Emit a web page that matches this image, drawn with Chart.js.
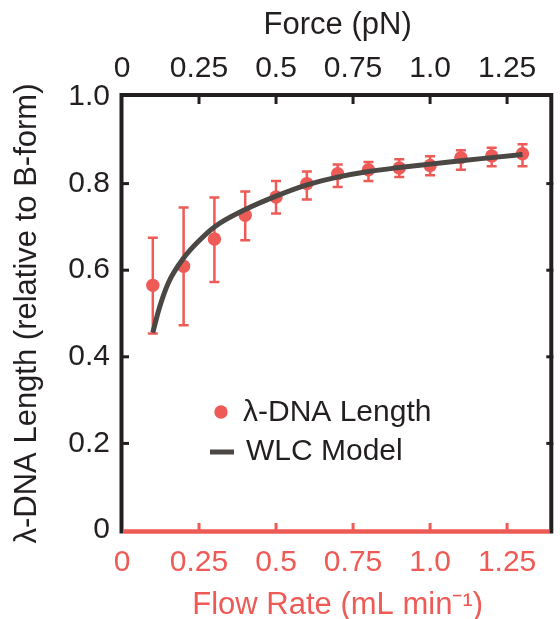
<!DOCTYPE html>
<html lang="en">
<head>
  <meta charset="UTF-8">
  <title>λ-DNA Length vs Flow Rate</title>
  <script src="https://cdn.jsdelivr.net/npm/chart.js"></script>
  <style>
    html, body { margin: 0; padding: 0; background: #fff; }
    canvas { display: block; }
  </style>
</head>
<body>
  <canvas id="chart" width="560" height="619"></canvas>
  <script>
    // measured lambda-DNA length vs flow rate
    const flowRate   = [0.1, 0.2, 0.3, 0.4, 0.5, 0.6, 0.7, 0.8, 0.9, 1.0, 1.1, 1.2, 1.3];
    const lengthMean = [0.565, 0.609, 0.672, 0.727, 0.769, 0.800, 0.823, 0.832, 0.836, 0.842, 0.860, 0.864, 0.869];
    const lengthLow  = [0.454, 0.473, 0.573, 0.669, 0.731, 0.763, 0.792, 0.806, 0.815, 0.819, 0.832, 0.840, 0.840];
    const lengthHigh = [0.675, 0.745, 0.768, 0.782, 0.806, 0.828, 0.844, 0.850, 0.856, 0.863, 0.877, 0.883, 0.891];

    // WLC model curve
    const wlcX = [0.1, 0.12, 0.15, 0.2, 0.25, 0.3, 0.4, 0.5, 0.6, 0.7, 0.8, 0.9, 1.0, 1.1, 1.2, 1.3];
    const wlcY = [0.456, 0.51, 0.57, 0.628, 0.668, 0.700, 0.740, 0.771, 0.797, 0.815, 0.828, 0.837, 0.845, 0.853, 0.860, 0.867];

    const xTicks = [0, 0.25, 0.5, 0.75, 1.0, 1.25];
    const xTickLabels = ['0', '0.25', '0.5', '0.75', '1.0', '1.25'];
    const yTicks = [0, 0.2, 0.4, 0.6, 0.8, 1.0];
    const yTickLabels = ['0', '0.2', '0.4', '0.6', '0.8', '1.0'];

    const RED = '#ee5a55';
    const DARK = '#231f20';
    const CURVE = '#4a4744';
    const FONT = '"Liberation Sans", Arial, sans-serif';

    const framePlugin = {
      id: 'frame',
      beforeDatasetsDraw(chart) {
        // error bars under the points
        const ctx = chart.ctx, x = chart.scales.x, y = chart.scales.y;
        ctx.save();
        ctx.strokeStyle = RED;
        ctx.lineWidth = 2.5;
        flowRate.forEach((f, i) => {
          const px = x.getPixelForValue(f);
          const lo = y.getPixelForValue(lengthLow[i]);
          const hi = y.getPixelForValue(lengthHigh[i]);
          ctx.beginPath();
          ctx.moveTo(px, lo); ctx.lineTo(px, hi);
          ctx.moveTo(px - 5, lo); ctx.lineTo(px + 5, lo);
          ctx.moveTo(px - 5, hi); ctx.lineTo(px + 5, hi);
          ctx.stroke();
        });
        ctx.restore();
      },
      afterDatasetsDraw(chart) {
        const ctx = chart.ctx, a = chart.chartArea;
        const x = chart.scales.x, y = chart.scales.y;
        ctx.save();
        // inward ticks
        ctx.lineWidth = 3;
        xTicks.slice(1).forEach(v => {
          const px = x.getPixelForValue(v);
          ctx.strokeStyle = DARK;
          ctx.beginPath(); ctx.moveTo(px, a.top); ctx.lineTo(px, a.top + 7); ctx.stroke();
          ctx.strokeStyle = RED;
          ctx.beginPath(); ctx.moveTo(px, a.bottom); ctx.lineTo(px, a.bottom - 7); ctx.stroke();
        });
        ctx.strokeStyle = DARK;
        yTicks.slice(1, -1).forEach(v => {
          const py = y.getPixelForValue(v);
          ctx.beginPath(); ctx.moveTo(a.left, py); ctx.lineTo(a.left + 7, py); ctx.stroke();
          ctx.beginPath(); ctx.moveTo(a.right, py); ctx.lineTo(a.right - 7, py); ctx.stroke();
        });
        // frame
        ctx.lineWidth = 4;
        ctx.strokeStyle = DARK;
        ctx.beginPath();
        ctx.moveTo(a.left - 0.5, a.bottom + 3.5);
        ctx.lineTo(a.left - 0.5, a.top - 2);
        ctx.lineTo(a.right - 2, a.top - 2);
        ctx.lineTo(a.right - 2, a.bottom + 3.5);
        ctx.stroke();
        ctx.strokeStyle = RED;
        ctx.lineWidth = 4.5;
        ctx.beginPath();
        ctx.moveTo(a.left + 1.5, a.bottom + 1.5);
        ctx.lineTo(a.right - 4, a.bottom + 1.5);
        ctx.stroke();

        // legend inside plot
        const ds = chart.data.datasets;
        ctx.font = '30px ' + FONT;
        ctx.textBaseline = 'middle';
        ctx.fillStyle = RED;
        ctx.beginPath(); ctx.arc(221, 412, 6.7, 0, Math.PI * 2); ctx.fill();
        ctx.fillStyle = DARK;
        ctx.fillText(ds[1].label, 243, 413);
        ctx.strokeStyle = CURVE;
        ctx.lineWidth = 5;
        ctx.beginPath(); ctx.moveTo(210, 452); ctx.lineTo(234, 452); ctx.stroke();
        ctx.fillText(ds[0].label, 246, 452);
        ctx.restore();
      }
    };

    const tickFont = { family: FONT, size: 30 };
    const titleFont = { family: FONT, size: 31 };

    new Chart(document.getElementById('chart'), {
      type: 'scatter',
      data: {
        datasets: [
          {
            type: 'line',
            label: 'WLC Model',
            data: wlcX.map((v, i) => ({ x: v, y: wlcY[i] })),
            borderColor: CURVE,
            borderWidth: 5,
            pointRadius: 0,
            fill: false,
            cubicInterpolationMode: 'monotone'
          },
          {
            label: 'λ-DNA Length',
            data: flowRate.map((v, i) => ({ x: v, y: lengthMean[i] })),
            backgroundColor: RED,
            borderColor: RED,
            pointRadius: 6.7,
            borderWidth: 0
          }
        ]
      },
      options: {
        responsive: false,
        animation: false,
        devicePixelRatio: 1,
        layout: { padding: { left: 0, right: 3, top: 0, bottom: 0 } },
        plugins: { legend: { display: false }, tooltip: { enabled: false } },
        scales: {
          x: {
            type: 'linear', position: 'bottom', min: 0, max: 1.4,
            afterBuildTicks: s => { s.ticks = xTicks.map(v => ({ value: v })); },
            afterFit: s => { s.height = 89; },
            grid: { display: false, drawTicks: false },
            border: { display: false },
            ticks: { color: RED, font: tickFont, padding: 15, maxRotation: 0,
                     callback: (v, i) => xTickLabels[i] },
            title: { display: true, text: 'Flow Rate (mL min⁻¹)', color: RED,
                     font: Object.assign({ lineHeight: 0.9 }, titleFont), padding: { top: 0, bottom: 0 } }
          },
          x2: {
            type: 'linear', position: 'top', min: 0, max: 1.4,
            afterBuildTicks: s => { s.ticks = xTicks.map(v => ({ value: v })); },
            afterFit: s => { s.height = 97; },
            grid: { display: false, drawTicks: false },
            border: { display: false },
            ticks: { color: DARK, font: tickFont, padding: 10, maxRotation: 0,
                     callback: (v, i) => xTickLabels[i] },
            title: { display: true, text: 'Force (pN)', color: DARK, font: titleFont,
                     padding: { top: 7, bottom: 0 } }
          },
          y: {
            type: 'linear', position: 'left', min: 0, max: 1.0,
            afterBuildTicks: s => { s.ticks = yTicks.map(v => ({ value: v })); },
            afterFit: s => { s.width = 122; },
            grid: { display: false, drawTicks: false },
            border: { display: false },
            ticks: { color: DARK, font: tickFont, padding: 12,
                     callback: (v, i) => yTickLabels[i] },
            title: { display: true, text: 'λ-DNA Length (relative to B-form)', color: DARK,
                     font: titleFont, padding: { top: 9, bottom: 0 } }
          }
        }
      },
      plugins: [framePlugin]
    });
  </script>
</body>
</html>
